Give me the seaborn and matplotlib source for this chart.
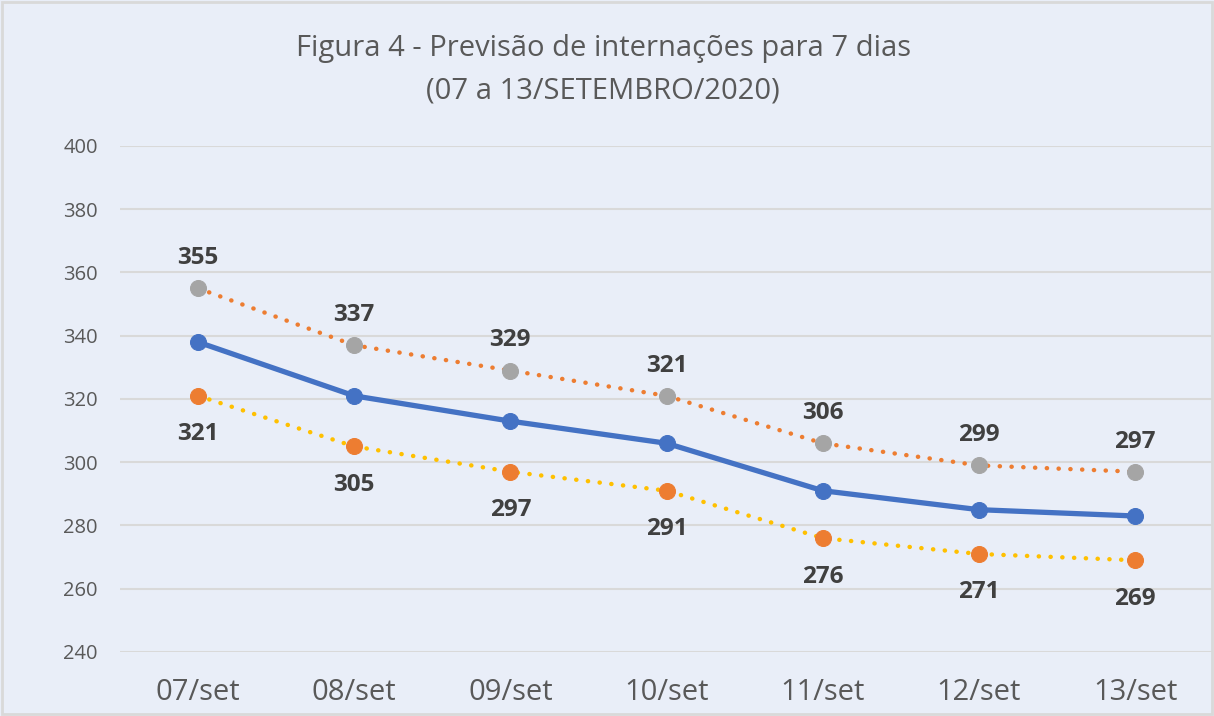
import numpy as np
import pandas as pd
import matplotlib
matplotlib.use("Agg")
import matplotlib.pyplot as plt
from matplotlib.patches import Rectangle
import seaborn as sns

# Dados do gráfico
dias = ["07/set", "08/set", "09/set", "10/set", "11/set", "12/set", "13/set"]
previsao = [338, 321, 313, 306, 291, 285, 283]
limite_superior = [355, 337, 329, 321, 306, 299, 297]
limite_inferior = [321, 305, 297, 291, 276, 271, 269]
y_ticks = [240, 260, 280, 300, 320, 340, 360, 380, 400]
titulo = "Figura 4 - Previsão de internações para 7 dias\n(07 a 13/SETEMBRO/2020)"

bg = "#E9EEF8"
sns.set_theme(style="white")
plt.rcParams["font.family"] = ["Open Sans", "DejaVu Sans"]

fig = plt.figure(figsize=(12.14, 7.16), dpi=100, facecolor=bg)
ax = fig.add_axes([0.0988, 0.0894, 0.9005, 0.7067])
ax.set_facecolor(bg)

df = pd.DataFrame({"dia": dias, "prev": previsao,
                   "sup": limite_superior, "inf": limite_inferior})

# limite superior: linha laranja pontilhada, marcadores cinza
sns.lineplot(data=df, x="dia", y="sup", ax=ax, color="#ED7D31", linewidth=3.2,
             marker="o", markersize=11.5, markerfacecolor="#A5A5A5",
             markeredgecolor="#A5A5A5", sort=False)
# limite inferior: linha amarela pontilhada, marcadores laranja
sns.lineplot(data=df, x="dia", y="inf", ax=ax, color="#FFC000", linewidth=3.2,
             marker="o", markersize=11.5, markerfacecolor="#ED7D31",
             markeredgecolor="#ED7D31", sort=False)
# previsão: linha azul sólida
sns.lineplot(data=df, x="dia", y="prev", ax=ax, color="#4472C4", linewidth=3.8,
             marker="o", markersize=11.5, markerfacecolor="#4472C4",
             markeredgecolor="#4472C4", sort=False)

for ln in ax.lines[:2]:
    ln.set_linestyle((0, (0.05, 2.6)))
    ln.set_dash_capstyle("round")

# rótulos de dados
for i, d in enumerate(dias):
    ax.annotate(str(limite_superior[i]), (i, limite_superior[i]),
                xytext=(0, 13), textcoords="offset points", ha="center",
                va="bottom", fontsize=17.5, fontweight="bold", color="#404040")
    ax.annotate(str(limite_inferior[i]), (i, limite_inferior[i]),
                xytext=(0, -19), textcoords="offset points", ha="center",
                va="top", fontsize=17.5, fontweight="bold", color="#404040")

ax.set_xlim(-0.5, len(dias) - 0.5)
ax.set_ylim(240, 400)
ax.set_yticks(y_ticks)
ax.yaxis.grid(True, color="#D9D9D9", linewidth=1.5)
ax.set_axisbelow(True)
ax.tick_params(axis="y", labelsize=14.5, labelcolor="#595959", length=0, pad=16)
ax.tick_params(axis="x", labelsize=21, labelcolor="#595959", length=0, pad=19)
ax.set_xlabel("")
ax.set_ylabel("")
for s in ax.spines.values():
    s.set_visible(False)

fig.text(0.497, 0.952, titulo, ha="center", va="top", fontsize=21,
         color="#595959", linespacing=1.6)

fig.patches.append(Rectangle((0.002, 0.003), 0.996, 0.994, transform=fig.transFigure,
                             fill=False, edgecolor="#D9D9D9", linewidth=2))

fig.savefig("out.png", dpi=100, facecolor=bg)
